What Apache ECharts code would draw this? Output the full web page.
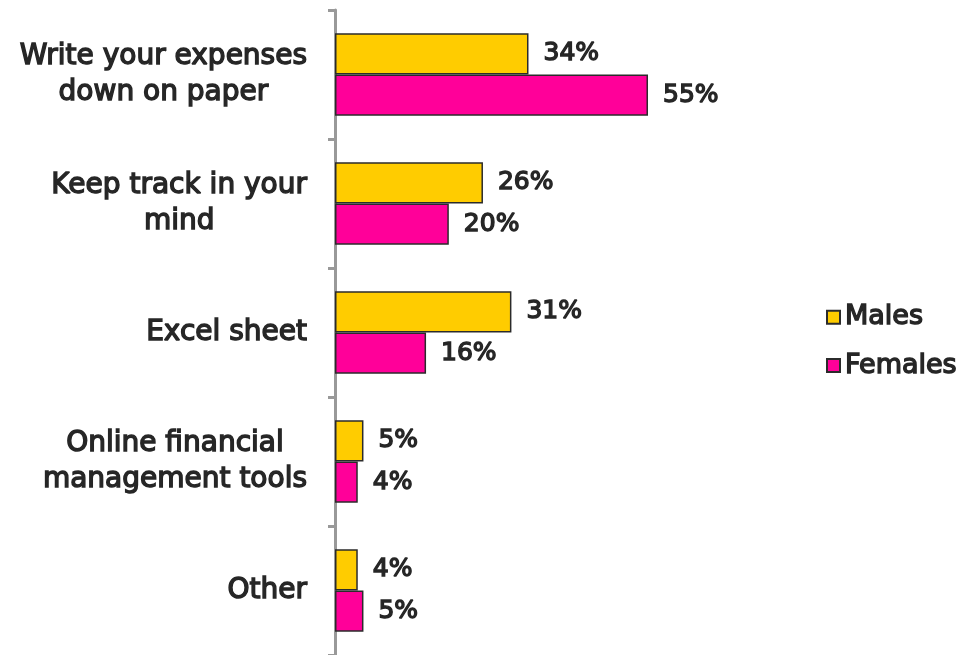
<!DOCTYPE html>
<html>
<head>
<meta charset="utf-8">
<script src="https://cdn.jsdelivr.net/npm/echarts@6/dist/echarts.min.js"></script>
<style>html,body{margin:0;padding:0;background:#fff;}#c{width:959px;height:655px;}</style>
</head>
<body>
<div id="c"></div>
<script>
var categories = ['Write your expenses\ndown on paper', 'Keep track in your\nmind', 'Excel sheet', 'Online financial\nmanagement tools', 'Other'];
var males = [34, 26, 31, 5, 4];
var females = [55, 20, 16, 4, 5];
var seriesNames = ['Males', 'Females'];

var chart = echarts.init(document.getElementById('c'), null, {renderer: 'canvas'});
var font = 'DejaVu Sans';
var txt = '#262626';
var bw = 1.4;
var valueLabel = {
  show: true, position: 'right', distance: 15,
  formatter: '{c}%', fontFamily: font, fontSize: 25, color: txt,
  textBorderColor: txt, textBorderWidth: bw
};
chart.setOption({
  animation: false,
  backgroundColor: '#fff',
  grid: {left: 335, top: 10, width: 569.1, height: 645, containLabel: false},
  legend: {
    orient: 'vertical', left: 821, top: 298,
    icon: 'rect',
    itemWidth: 13, itemHeight: 13, itemGap: 20,
    textStyle: {fontFamily: font, fontSize: 27, color: txt, textBorderColor: txt, textBorderWidth: bw},
    data: seriesNames
  },
  xAxis: {type: 'value', min: 0, max: 100, show: false},
  yAxis: {
    type: 'category', inverse: true, data: categories,
    axisLine: {lineStyle: {color: '#999', width: 3}},
    axisTick: {show: true, length: 7, lineStyle: {color: '#999', width: 3}},
    axisLabel: {
      margin: 28, align: 'right', fontFamily: font, fontSize: 28, color: txt,
      lineHeight: 36,
      formatter: function (v) {
        return v.split('\n').map(function (s) { return '{c|' + s + '}'; }).join('\n');
      },
      rich: {c: {align: 'center', fontFamily: font, fontSize: 28, color: txt, lineHeight: 36, textBorderColor: txt, textBorderWidth: bw}}
    }
  },
  series: [
    {name: seriesNames[0], type: 'bar', data: males, barGap: '0%', barCategoryGap: '36%',
     itemStyle: {color: '#FFCC00', borderColor: '#2b2b2b', borderWidth: 1.5},
     label: valueLabel},
    {name: seriesNames[1], type: 'bar', data: females, barGap: '0%', barCategoryGap: '36%',
     itemStyle: {color: '#FF0099', borderColor: '#2b2b2b', borderWidth: 1.5},
     label: valueLabel}
  ]
});
</script>
</body>
</html>
